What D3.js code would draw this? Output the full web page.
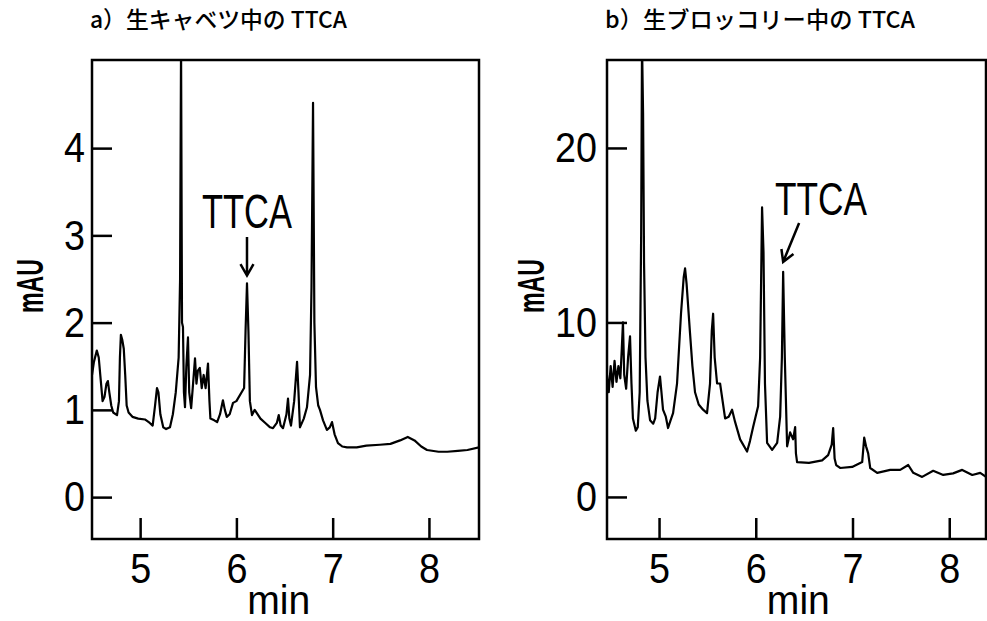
<!DOCTYPE html>
<html>
<head>
<meta charset="utf-8">
<script src="https://cdn.jsdelivr.net/npm/d3@7"></script>
<style>
  body { margin: 0; background: #fff; }
  svg { display: block; }
  .num { font-family: "Liberation Sans", Arial, sans-serif; fill: #000; }
  .ttl { font-family: "Noto Sans CJK JP", sans-serif; fill: #000; font-weight: 500; }
</style>
</head>
<body>
<svg width="987" height="621"></svg>
<script>
// chromatogram a) raw cabbage: retention time (min) and absorbance (mAU)
var cabbageTime = [4.50, 4.52, 4.55, 4.57, 4.59, 4.61, 4.63, 4.65, 4.665, 4.68, 4.70, 4.72, 4.76, 4.78, 4.79, 4.80,
  4.815, 4.83, 4.845, 4.86, 4.88, 4.92, 4.98, 5.05, 5.10, 5.13, 5.155, 5.175, 5.19, 5.21, 5.24, 5.27, 5.31, 5.34,
  5.37, 5.40, 5.415, 5.425, 5.435, 5.445, 5.455, 5.466, 5.48, 5.497, 5.51, 5.53, 5.55, 5.57, 5.585, 5.60, 5.62,
  5.64, 5.66, 5.68, 5.705, 5.72, 5.73, 5.77, 5.80, 5.83, 5.86, 5.88, 5.90, 5.93, 5.965, 6.00, 6.08, 6.095, 6.11,
  6.125, 6.14, 6.162, 6.19, 6.214, 6.25, 6.30, 6.35, 6.38, 6.42, 6.44, 6.46, 6.484, 6.52, 6.536, 6.55, 6.567,
  6.60, 6.63, 6.645, 6.66, 6.70, 6.733, 6.765, 6.78, 6.796, 6.81, 6.827, 6.85, 6.868, 6.90, 6.94, 6.97, 6.993,
  7.02, 7.055, 7.10, 7.149, 7.25, 7.35, 7.49, 7.60, 7.70, 7.78, 7.85, 7.92, 7.98, 8.10, 8.19, 8.30, 8.40, 8.52];
var cabbageMAU = [1.40, 1.55, 1.68, 1.60, 1.35, 1.10, 1.15, 1.30, 1.33, 1.20, 1.05, 0.97, 0.94, 1.10, 1.60, 1.86,
  1.80, 1.70, 1.40, 1.05, 0.97, 0.92, 0.90, 0.89, 0.85, 0.82, 1.05, 1.25, 1.20, 0.95, 0.80, 0.78, 0.80, 0.95,
  1.20, 1.60, 2.50, 5.20, 2.00, 1.95, 1.20, 1.03, 1.50, 1.83, 1.20, 1.02, 1.30, 1.59, 1.30, 1.45, 1.48,
  1.25, 1.40, 1.25, 1.53, 1.10, 0.90, 0.88, 0.86, 0.95, 1.11, 1.00, 0.92, 0.95, 1.08, 1.10, 1.25, 1.90, 2.45,
  1.90, 1.10, 0.94, 1.00, 0.96, 0.90, 0.85, 0.80, 0.79, 0.85, 0.94, 0.82, 0.79, 0.95, 1.13, 0.90, 0.82,
  1.10, 1.55, 1.20, 0.80, 0.90, 1.03, 1.40, 2.40, 4.52, 2.00, 1.26, 1.05, 1.00, 0.88, 0.77, 0.80, 0.86,
  0.72, 0.62, 0.58, 0.57, 0.57, 0.59, 0.60, 0.61, 0.65, 0.69, 0.65, 0.58, 0.54, 0.52, 0.52, 0.53, 0.54, 0.57];

// chromatogram b) raw broccoli
var broccoliTime = [4.462, 4.48, 4.50, 4.52, 4.54, 4.56, 4.58, 4.60, 4.615, 4.627, 4.64, 4.66, 4.68, 4.70, 4.715,
  4.73, 4.76, 4.78, 4.80, 4.815, 4.824, 4.835, 4.845, 4.86, 4.88, 4.907, 4.94, 4.96, 4.985, 5.01, 5.025, 5.041,
  5.07, 5.093, 5.12, 5.145, 5.186, 5.227, 5.255, 5.269, 5.285, 5.32, 5.345, 5.372, 5.41, 5.455, 5.496, 5.527,
  5.545, 5.559, 5.575, 5.60, 5.631, 5.683, 5.72, 5.755, 5.786, 5.838, 5.91, 5.94, 5.972, 6.024, 6.045, 6.065,
  6.08, 6.095, 6.117, 6.169, 6.221, 6.252, 6.27, 6.283, 6.30, 6.324, 6.355, 6.386, 6.407, 6.415, 6.427, 6.55,
  6.686, 6.748, 6.785, 6.80, 6.815, 6.831, 6.872, 6.996, 7.10, 7.121, 7.14, 7.162, 7.183, 7.255, 7.39, 7.493,
  7.576, 7.628, 7.72, 7.834, 7.938, 8.04, 8.134, 8.238, 8.32, 8.38];
var broccoliMAU = [7.0, 6.0, 7.5, 6.3, 7.8, 6.6, 7.5, 6.8, 8.5, 10.0, 7.0, 6.2, 8.0, 9.2, 6.5,
  4.5, 3.8, 4.0, 6.0, 15.0, 26.0, 22.0, 13.4, 8.0, 5.5, 4.4, 4.2, 4.5, 6.0, 6.9, 6.0, 5.0,
  4.6, 3.95, 4.4, 4.8, 6.5, 10.5, 12.6, 13.1, 12.2, 9.4, 7.5, 6.0, 5.3, 5.0, 4.8, 6.5,
  9.5, 10.5, 8.0, 6.5, 6.5, 4.5, 4.6, 5.0, 4.3, 3.3, 2.6, 3.2, 4.0, 5.2, 8.0, 16.6,
  14.0, 6.5, 3.1, 2.7, 3.1, 4.6, 8.0, 12.9, 8.0, 2.9, 3.7, 3.3, 4.0, 2.5, 2.0, 1.95,
  2.1, 2.4, 3.0, 3.95, 2.2, 1.83, 1.66, 1.72, 2.0, 3.4, 2.9, 2.5, 1.66, 1.38, 1.55, 1.55,
  1.83, 1.38, 1.15, 1.5, 1.26, 1.35, 1.55, 1.26, 1.38, 1.15];

var minuteTicks = [5, 6, 7, 8];
var cabbageTicks = [0, 1, 2, 3, 4];
var broccoliTicks = [0, 10, 20];
var titles = ["a）生キャベツ中の TTCA", "b）生ブロッコリー中の TTCA"];
// TTCA arrow: tip (t, mAU), tail (t, mAU), label position (t, mAU)
var cabbageArrow = [[6.11, 2.54], [6.11, 2.98], [6.11, 3.08]];
var broccoliArrow = [[6.283, 13.47], [6.448, 15.7], [6.675, 16.16]];

var svg = d3.select("svg");

function drawPanel(p) {
  var x = d3.scaleLinear().domain(p.xDomain).range([p.left, p.right]);
  var y = d3.scaleLinear().domain(p.yDomain).range([539, 60]);
  var g = svg.append("g");

  g.append("text").attr("class", "ttl")
    .attr("x", p.left - 2).attr("y", 28)
    .attr("font-size", 23)
    .attr("textLength", p.titleWidth).attr("lengthAdjust", "spacingAndGlyphs")
    .text(p.title);

  g.append("clipPath").attr("id", p.id + "clip")
    .append("rect").attr("x", p.left).attr("y", 60)
    .attr("width", p.right - p.left).attr("height", 479);

  var line = d3.line()
    .x(function(d) { return x(d[0]); })
    .y(function(d) { return y(d[1]); });

  var pts = p.time.map(function(t, i) { return [t, p.mau[i]]; });
  g.append("path")
    .datum(pts)
    .attr("clip-path", "url(#" + p.id + "clip)")
    .attr("fill", "none").attr("stroke", "#000")
    .attr("stroke-width", 2.2).attr("stroke-linejoin", "round")
    .attr("d", line);

  // axes (ticks point inward)
  var ya = g.append("g").attr("transform", "translate(" + p.left + ",0)")
    .call(d3.axisLeft(y).tickValues(p.yTicks).tickSize(-20).tickPadding(p.yPad).tickFormat(d3.format("d")));
  var xa = g.append("g").attr("transform", "translate(0,539)")
    .call(d3.axisBottom(x).tickValues(minuteTicks).tickSize(-21).tickPadding(13).tickFormat(d3.format("d")));
  [ya, xa].forEach(function(a) {
    a.select(".domain").remove();
    a.selectAll(".tick line").attr("stroke", "#000").attr("stroke-width", 2.5);
    a.selectAll(".tick text").attr("class", "num").attr("font-size", 43).attr("fill", "#000")
      .attr("textLength", function(d) { return String(d).length * 21; })
      .attr("lengthAdjust", "spacingAndGlyphs");
  });

  g.append("rect")
    .attr("x", p.left).attr("y", 60)
    .attr("width", p.right - p.left).attr("height", 479)
    .attr("fill", "none").attr("stroke", "#000").attr("stroke-width", 2.5);

  g.append("text").attr("class", "num")
    .attr("x", x(6.44)).attr("y", 614)
    .attr("text-anchor", "middle").attr("font-size", 40)
    .attr("textLength", 63).attr("lengthAdjust", "spacingAndGlyphs")
    .text("min");

  g.append("text").attr("class", "num")
    .attr("transform", "translate(" + p.yLabelX + ",286) rotate(-90)")
    .attr("text-anchor", "middle").attr("font-size", 36).attr("font-weight", "bold")
    .attr("textLength", 54).attr("lengthAdjust", "spacingAndGlyphs")
    .text("mAU");

  // TTCA annotation
  var a = p.arrow;
  var tip = [x(a[0][0]), y(a[0][1])], tail = [x(a[1][0]), y(a[1][1])];
  var dx = tail[0] - tip[0], dy = tail[1] - tip[1], len = Math.sqrt(dx * dx + dy * dy);
  var ux = dx / len, uy = dy / len, h = 13, s = 0.5;
  g.append("path")
    .attr("fill", "none").attr("stroke", "#000").attr("stroke-width", 2.5)
    .attr("d", "M" + tail + "L" + tip +
      "M" + [tip[0] + h * (ux * 0.87 - uy * s), tip[1] + h * (uy * 0.87 + ux * s)] + "L" + tip +
      "L" + [tip[0] + h * (ux * 0.87 + uy * s), tip[1] + h * (uy * 0.87 - ux * s)]);
  g.append("text").attr("class", "num")
    .attr("x", x(a[2][0])).attr("y", y(a[2][1]))
    .attr("text-anchor", "middle").attr("font-size", p.ttcaSize)
    .attr("textLength", p.ttcaWidth).attr("lengthAdjust", "spacingAndGlyphs")
    .text("TTCA");
}

drawPanel({
  id: "a", left: 92, right: 479, xDomain: [4.5, 8.52], yDomain: [-0.48, 5.01],
  time: cabbageTime, mau: cabbageMAU, yTicks: cabbageTicks, yPad: 7, yLabelX: 43,
  title: titles[0], titleWidth: 257, arrow: cabbageArrow, ttcaSize: 48, ttcaWidth: 90
});
drawPanel({
  id: "b", left: 607, right: 986, xDomain: [4.462, 8.38], yDomain: [-2.41, 25.04],
  time: broccoliTime, mau: broccoliMAU, yTicks: broccoliTicks, yPad: 10, yLabelX: 544,
  title: titles[1], titleWidth: 310, arrow: broccoliArrow, ttcaSize: 46, ttcaWidth: 92
});
</script>
</body>
</html>
